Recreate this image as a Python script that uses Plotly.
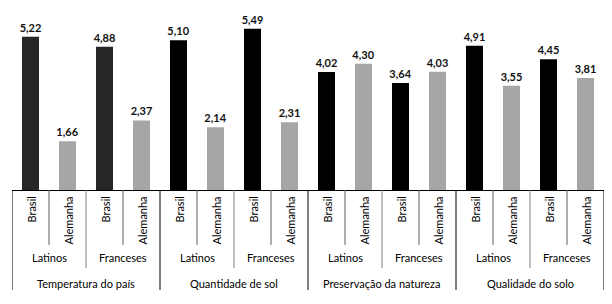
import plotly.graph_objects as go

# ---- data ----
categories = ["Temperatura do país", "Quantidade de sol", "Preservação da natureza", "Qualidade do solo"]
groups = ["Latinos", "Franceses"]
countries = ["Brasil", "Alemanha"]
# values[category][group] = [Brasil, Alemanha]
temperatura = [[5.22, 1.66], [4.88, 2.37]]
sol = [[5.10, 2.14], [5.49, 2.31]]
natureza = [[4.02, 4.30], [3.64, 4.03]]
solo = [[4.91, 3.55], [4.45, 3.81]]
values = [temperatura, sol, natureza, solo]

# ---- styles ----
country_colors = {"Brasil": "#000000", "Alemanha": "#A6A6A6"}
first_brasil_color = "#262626"
FONT = "Lato"

xs, ys, cols = [], [], []
k = 0
slot_info = []
for ci, cat in enumerate(categories):
    for gi, grp in enumerate(groups):
        for si, ctry in enumerate(countries):
            xs.append(k)
            ys.append(values[ci][gi][si])
            c = country_colors[ctry]
            if ci == 0 and ctry == "Brasil":
                c = first_brasil_color
            cols.append(c)
            slot_info.append((ci, gi, si, ctry))
            k += 1

n = len(xs)
fig = go.Figure(go.Bar(
    x=xs, y=ys, marker=dict(color=cols, line=dict(width=0)), width=0.46,
    text=ys, texttemplate="%{y:.2f}", textposition="outside",
    textfont=dict(family=FONT, size=11, color="#111111", weight="bold"),
    constraintext="none", cliponaxis=False, hoverinfo="skip",
))

PLOT_TOP, PLOT_BOTTOM = 5, 114
H = 304
ph = H - PLOT_TOP - PLOT_BOTTOM

def pix(dy):
    return -dy / ph

annotations = []
shapes = []
# country labels
for x, (ci, gi, si, ctry) in zip(xs, slot_info):
    annotations.append(dict(x=x, y=0, xref="x", yref="paper", text=ctry, showarrow=False,
                            textangle=-90, yanchor="top", xanchor="center", yshift=-5,
                            font=dict(family=FONT, size=11, color="#000000")))
# group labels
npc = len(countries)
for ci in range(len(categories)):
    for gi, grp in enumerate(groups):
        cx = (ci * len(groups) + gi) * npc + (npc - 1) / 2
        annotations.append(dict(x=cx, y=0, xref="x", yref="paper", text=grp, showarrow=False,
                                yanchor="middle", xanchor="center", yshift=-67,
                                font=dict(family=FONT, size=11, color="#000000")))
    cx = ci * len(groups) * npc + (len(groups) * npc - 1) / 2
    annotations.append(dict(x=cx, y=0, xref="x", yref="paper", text=categories[ci], showarrow=False,
                            yanchor="middle", xanchor="center", yshift=-93,
                            font=dict(family=FONT, size=11, color="#000000")))

# separators
for b in range(n + 1):
    xb = b - 0.5
    if b % (len(groups) * npc) == 0:
        y1, col = pix(100), "#000000"
    elif b % npc == 0:
        y1, col = pix(78), "#808080"
    else:
        y1, col = pix(55), "#606060"
    shapes.append(dict(type="line", xref="x", yref="paper", x0=xb, x1=xb, y0=0, y1=y1,
                       line=dict(color=col, width=1)))

fig.update_layout(
    width=612, height=304,
    margin=dict(l=12, r=8, t=PLOT_TOP, b=PLOT_BOTTOM),
    paper_bgcolor="white", plot_bgcolor="white",
    separators=",.",
    showlegend=False,
    hovermode=False,
    xaxis=dict(range=[-0.5, n - 0.5], showticklabels=False, ticks="", showgrid=False,
               zeroline=False, showline=True, linecolor="#000000", linewidth=1, fixedrange=True),
    yaxis=dict(range=[0, 6.3], visible=False, showgrid=False, zeroline=False, fixedrange=True),
    annotations=annotations, shapes=shapes,
)
fig.write_html("out.html", config={"displayModeBar": False, "staticPlot": True},
               post_script="document.body.style.margin='0';document.body.style.overflow='hidden';")
